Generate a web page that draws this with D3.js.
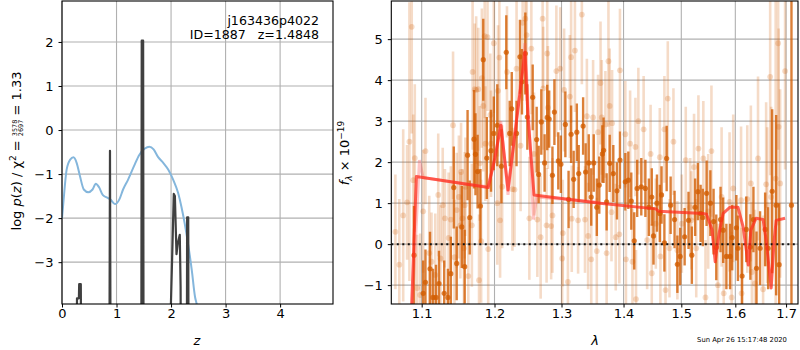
<!DOCTYPE html>
<html>
<head>
<meta charset="utf-8">
<script src="https://d3js.org/d3.v7.min.js"></script>
<style>
body { margin: 0; background: #fff; }
svg { display: block; font-family: "DejaVu Sans", sans-serif; }
</style>
</head>
<body>
<svg id="fig" width="800" height="350"></svg>
<script>
// ---- datos del panel p(z) ----
var zTicks = [0, 1, 2, 3, 4];
var lnpTicks = [-3, -2, -1, 0, 1, 2];

// curva azul (chi2)
var chiCurve = [[0, -2.0], [0.025, -1.65], [0.085, -0.9], [0.15, -0.67], [0.21, -0.62], [0.27, -0.75],
  [0.33, -1.05], [0.40, -1.35], [0.48, -1.41], [0.56, -1.35], [0.62, -1.22], [0.68, -1.3],
  [0.75, -1.48], [0.82, -1.53], [0.89, -1.58], [0.97, -1.68], [1.05, -1.58], [1.12, -1.35],
  [1.21, -1.13], [1.32, -0.82], [1.42, -0.56], [1.52, -0.42], [1.60, -0.38], [1.68, -0.44],
  [1.76, -0.61], [1.86, -0.75], [1.95, -0.9], [2.04, -1.13], [2.13, -1.43], [2.19, -1.74],
  [2.25, -2.12], [2.31, -2.57], [2.38, -3.18], [2.44, -3.79], [2.47, -3.95], [2.55, -4.6]];

// log p(z), linea negra
var logPz = [[0, -5], [0.27, -5], [0.275, -3.82], [0.31, -3.82], [0.315, -3.5], [0.345, -3.5],
  [0.35, -5], [0.87, -5], [0.88, -0.47], [0.89, -5], [1.455, -5], [1.462, 2.03], [1.488, 2.03],
  [1.495, -5], [1.975, -5], [2.02, -2.9], [2.05, -1.45], [2.07, -1.5], [2.1, -2.82], [2.12, -2.6],
  [2.16, -2.38], [2.175, -3.56], [2.18, -5], [2.29, -5], [2.295, -1.98], [2.315, -1.98],
  [2.32, -5], [4.97, -5]];

// ---- datos del espectro ----
var lamTicks = [1.1, 1.2, 1.3, 1.4, 1.5, 1.6, 1.7];
var fluxTicks = [-1, 0, 1, 2, 3, 4, 5];

// [lambda, flujo, error] - haz debil
var faintPts = [
  [1.066, 0.3, 1.4], [1.071, -0.5, 1.6], [1.076, 0.7, 2.1], [1.081, 1.02, 1.4], [1.084, 2.5, 3.4],
  [1.087, 5.3, 2.6], [1.089, 1.56, 1.6], [1.091, 2.1, 1.8], [1.094, -1.07, 1.3], [1.098, -1.24, 1.5],
  [1.102, 0.8, 1.5], [1.105, 2.27, 1.3], [1.110, -0.22, 1.4], [1.113, -0.43, 1.2], [1.118, -0.75, 1.5],
  [1.122, 1.2, 1.5], [1.125, -0.35, 1.3], [1.128, 0.95, 1.4], [1.131, 0.63, 1.2], [1.136, 0.15, 1.6],
  [1.139, 0.6, 1.3], [1.142, 2.9, 1.8], [1.144, -0.32, 1.4], [1.147, 0.83, 1.4], [1.150, 1.15, 1.5],
  [1.152, 0.46, 1.3], [1.153, 1.76, 1.2], [1.155, 0.63, 1.2], [1.157, -0.1, 1.5], [1.158, 0.95, 1.3],
  [1.159, 1.4, 1.2], [1.163, -0.78, 1.4], [1.168, 0.46, 1.5], [1.169, 4.2, 1.9], [1.172, 3.78, 1.6],
  [1.174, 3.76, 1.8], [1.177, 3.78, 1.5], [1.178, -0.88, 1.6], [1.179, 1.97, 1.4], [1.181, 0.07, 1.5],
  [1.182, 4.05, 1.7], [1.184, 3.37, 1.6], [1.186, 5.07, 2.0], [1.187, 2.45, 1.4], [1.190, 5.05, 1.8],
  [1.191, -0.12, 1.6], [1.194, 3.15, 1.5], [1.195, 2.45, 1.3], [1.199, 4.9, 1.7], [1.204, 1.0, 1.5],
  [1.205, 3.74, 1.6], [1.207, 4.55, 1.8], [1.208, 0.58, 1.4], [1.211, 1.4, 1.5], [1.218, 4.2, 1.6],
  [1.226, 1.34, 1.5], [1.229, 1.33, 1.4], [1.232, 4.28, 1.7], [1.238, 2.4, 1.6], [1.241, 5.4, 1.9],
  [1.245, 5.5, 1.8], [1.247, 5.1, 1.6], [1.251, 0.63, 1.5], [1.254, 4.77, 1.6], [1.258, 2.2, 1.5],
  [1.263, 0.6, 1.4], [1.268, 0.17, 1.5], [1.271, 5.5, 1.7], [1.272, 3.8, 1.5], [1.277, 0.46, 1.4],
  [1.278, 4.65, 1.6], [1.279, 3.33, 1.5], [1.284, 0.44, 1.3], [1.286, 0.7, 1.4], [1.292, 4.22, 1.6],
  [1.298, 4.28, 1.5], [1.301, -0.35, 1.4], [1.302, 0.27, 1.3], [1.304, 3.76, 1.5], [1.310, -0.92, 1.3],
  [1.313, 3.6, 1.5], [1.315, 4.56, 1.6], [1.316, 0.62, 1.3], [1.321, 4.72, 1.5], [1.326, 0.58, 1.3],
  [1.332, 5.6, 1.7], [1.337, 0.6, 1.3], [1.340, 3.12, 1.4], [1.342, 0.2, 1.3], [1.347, -0.37, 1.4],
  [1.350, 3.09, 1.4], [1.356, -0.17, 1.3], [1.358, 2.73, 1.4], [1.362, 3.93, 1.5], [1.364, 3.09, 1.4],
  [1.370, 2.92, 1.3], [1.372, -0.22, 1.3], [1.375, 4.46, 1.6], [1.377, 3.37, 1.4], [1.380, 0.78, 1.2],
  [1.381, 2.95, 1.3], [1.387, 0.17, 1.3], [1.393, 0.24, 1.2], [1.394, 4.24, 1.5], [1.403, 2.68, 1.3],
  [1.404, -0.37, 1.2], [1.411, 2.45, 1.3], [1.415, -0.43, 1.3], [1.420, 2.37, 1.2], [1.421, -1.34, 1.2],
  [1.425, 3.0, 1.3], [1.434, 2.8, 1.3], [1.440, 0.1, 1.2], [1.446, 2.2, 1.2], [1.448, -0.71, 1.2],
  [1.455, 0.5, 1.1], [1.462, 2.12, 1.2], [1.463, -0.3, 1.2], [1.470, 2.8, 1.3], [1.472, -1.12, 1.2],
  [1.476, 3.55, 1.4], [1.479, -0.1, 1.2], [1.486, 2.5, 1.3], [1.493, -0.15, 1.2], [1.501, 0.5, 1.2],
  [1.508, 2.05, 1.3], [1.516, 0.9, 1.2], [1.518, 0.58, 1.2], [1.523, 1.88, 1.3], [1.527, -0.1, 1.2],
  [1.531, 2.33, 1.3], [1.540, 2.09, 1.4], [1.544, -1.3, 1.4], [1.549, 0.8, 1.4], [1.555, 2.27, 1.6],
  [1.567, -1.0, 1.5], [1.574, 1.15, 1.7], [1.578, -1.2, 1.5], [1.589, 1.03, 1.7], [1.593, -1.3, 1.6],
  [1.596, 1.36, 1.8], [1.611, 1.07, 1.8], [1.612, -1.2, 1.6], [1.623, 1.1, 1.8], [1.630, 1.48, 1.9],
  [1.632, -0.68, 1.7], [1.638, -0.96, 1.8], [1.644, 2.09, 2.0], [1.654, -1.1, 1.8], [1.660, 1.46, 2.0],
  [1.662, 0.95, 1.9], [1.668, 4.08, 2.4], [1.670, 1.15, 2.2], [1.679, 1.6, 6.0], [1.684, 4.9, 2.6],
  [1.685, 2.86, 2.4], [1.688, 1.48, 2.3], [1.698, 4.22, 2.4]
];

// [lambda, flujo, error] - haz fuerte
var strongPts = [
  [1.090, -0.27, 1.2], [1.102, -1.2, 0.8], [1.105, -0.93, 0.8], [1.111, -0.6, 0.9], [1.115, -1.3, 0.7],
  [1.119, -1.3, 0.8], [1.123, -0.96, 0.8], [1.130, -1.2, 0.8], [1.135, -1.3, 0.7], [1.139, -0.72, 0.9],
  [1.143, 1.38, 1.0], [1.147, -0.47, 0.9], [1.154, 0.42, 1.0], [1.158, -0.55, 0.9], [1.162, 2.17, 1.1],
  [1.165, 0.65, 0.9], [1.171, 2.56, 1.2], [1.173, 2.19, 1.0], [1.176, 1.77, 0.9], [1.180, 0.93, 0.9],
  [1.184, 4.5, 1.0], [1.189, 2.1, 1.0], [1.195, 2.28, 1.0], [1.199, 2.7, 0.9], [1.204, 2.9, 1.0],
  [1.210, 1.9, 0.9], [1.217, 4.68, 0.9], [1.222, 2.7, 0.8], [1.225, 3.3, 0.9], [1.232, 2.7, 0.8],
  [1.237, 4.57, 0.9], [1.240, 3.96, 0.8], [1.245, 4.65, 1.0], [1.248, 3.1, 0.8], [1.256, 3.58, 0.8],
  [1.262, 2.55, 0.8], [1.265, 1.7, 0.7], [1.269, 2.98, 0.8], [1.274, 1.98, 0.7], [1.278, 3.09, 0.8],
  [1.281, 3.05, 0.7], [1.286, 1.68, 0.7], [1.289, 3.22, 0.8], [1.295, 2.03, 0.7], [1.299, 1.95, 0.7],
  [1.306, 2.92, 0.8], [1.311, 1.09, 0.7], [1.315, 2.68, 0.7], [1.319, 1.58, 0.7], [1.324, 2.73, 0.7],
  [1.327, 1.72, 0.7], [1.334, 2.88, 0.7], [1.338, 1.76, 0.7], [1.343, 1.98, 0.7], [1.347, 1.15, 0.7],
  [1.351, 1.98, 0.7], [1.356, 0.9, 0.7], [1.360, 1.44, 0.7], [1.365, 2.2, 0.7],
  [1.367, 2.29, 0.8], [1.372, 1.03, 0.7], [1.377, 1.97, 0.7], [1.383, 1.72, 0.7],
  [1.389, 1.3, 0.7], [1.394, 2.05, 0.7], [1.403, 1.52, 0.7], [1.408, 1.56, 0.7], [1.413, 1.05, 0.7],
  [1.418, 0.08, 0.7], [1.423, 1.36, 0.7], [1.430, 1.4, 0.7], [1.437, 1.36, 0.7], [1.443, 0.9, 0.7],
  [1.448, 1.15, 0.7], [1.451, 0.2, 0.7], [1.457, 1.0, 0.7], [1.462, 0.75, 0.7], [1.465, 1.2, 0.7],
  [1.470, 0.03, 0.7], [1.474, 2.09, 0.8], [1.481, 0.95, 0.7], [1.488, 0.6, 0.7], [1.493, -0.49, 0.7],
  [1.498, -0.3, 0.7], [1.506, 0.18, 0.7], [1.513, 0.58, 0.7], [1.519, -0.27, 0.7], [1.525, 0.9, 0.7],
  [1.530, 1.28, 0.7], [1.535, 0.75, 0.7], [1.539, 0.65, 0.7], [1.546, 1.24, 0.8], [1.553, 1.0, 0.8],
  [1.559, 0.55, 0.8], [1.564, -0.08, 0.8], [1.572, 0.6, 0.8], [1.577, 0.34, 0.8], [1.583, -0.3, 0.8],
  [1.590, -0.3, 0.8], [1.594, 0.16, 0.8], [1.602, 0.4, 0.8], [1.605, -0.1, 0.8], [1.613, -0.78, 0.8],
  [1.621, 0.36, 0.8], [1.629, -0.07, 0.8], [1.635, 0.6, 0.8], [1.641, -0.59, 0.9], [1.648, -0.1, 0.9],
  [1.658, 0.36, 0.9], [1.664, -0.1, 1.0], [1.672, 1.29, 2.0], [1.680, 0.95, 2.2], [1.686, -0.5, 1.5],
  [1.711, 0.95, 6.0]
];

// modelo (rojo) y modelo del segundo haz (rosa)
var modelLine = [[1.084, -3], [1.093, 1.65], [1.191, 1.38], [1.2007, 2.12], [1.2093, 2.9], [1.2195, 1.32],
  [1.2445, 4.68], [1.249, 3.1], [1.258, 1.2], [1.361, 1.0], [1.455, 0.86], [1.46, 0.8], [1.539, 0.75],
  [1.546, 0.73], [1.556, 0.35], [1.562, -0.43], [1.569, 0.25], [1.577, 0.75], [1.590, 0.9],
  [1.605, 0.9], [1.615, 0.42], [1.625, -0.51], [1.630, 0.34], [1.640, 0.63], [1.654, 0.6],
  [1.660, 0.1], [1.670, -1.07], [1.676, 0.1], [1.680, 0.58], [1.698, 0.63]];
var modelLine2 = [[1.084, -3], [1.097, 2.05], [1.102, 1.62], [1.19, 1.4], [1.2, 2.0], [1.209, 3.0],
  [1.2195, 1.2], [1.2445, 4.9], [1.252, 2.5], [1.257, 0.6], [1.262, 1.15], [1.361, 1.02]];

var svg = d3.select("#fig");

var pz = { left: 62, right: 333, top: 1, bottom: 304 };
var sp = { left: 391.3, right: 798, top: 1, bottom: 304 };

var xz = d3.scaleLinear().domain([0, 4.97]).range([pz.left, pz.right]);
var yz = d3.scaleLinear().domain([-3.95, 2.93]).range([pz.bottom, pz.top]);
var xl = d3.scaleLog().domain([1.0608, 1.7244]).range([sp.left, sp.right]);
var yf = d3.scaleLinear().domain([-1.46, 5.93]).range([sp.bottom, sp.top]);

var defs = svg.append("defs");
defs.append("clipPath").attr("id", "clipZ").append("rect")
  .attr("x", pz.left).attr("y", pz.top).attr("width", pz.right - pz.left).attr("height", pz.bottom - pz.top);
defs.append("clipPath").attr("id", "clipS").append("rect")
  .attr("x", sp.left).attr("y", sp.top).attr("width", sp.right - sp.left).attr("height", sp.bottom - sp.top);

// rejilla
function grid(p, xs, ys, xt, yt) {
  var g = svg.append("g");
  g.selectAll(".gx").data(xt).enter().append("line")
    .attr("x1", d => xs(d)).attr("x2", d => xs(d)).attr("y1", p.top).attr("y2", p.bottom)
    .attr("stroke", "#b0b0b0").attr("stroke-width", 1.1);
  g.selectAll(".gy").data(yt).enter().append("line")
    .attr("x1", p.left).attr("x2", p.right).attr("y1", d => ys(d)).attr("y2", d => ys(d))
    .attr("stroke", "#b0b0b0").attr("stroke-width", 1.1);
}
grid(pz, xz, yz, zTicks, lnpTicks);
grid(sp, xl, yf, lamTicks, fluxTicks);

// panel p(z)
var gz = svg.append("g").attr("clip-path", "url(#clipZ)");
gz.append("path").datum(chiCurve)
  .attr("d", d3.line().x(d => xz(d[0])).y(d => yz(d[1])).curve(d3.curveMonotoneX))
  .attr("fill", "none").attr("stroke", "#84b6dc").attr("stroke-width", 2);
gz.append("path").datum(logPz)
  .attr("d", d3.line().x(d => xz(d[0])).y(d => yz(d[1])))
  .attr("fill", "none").attr("stroke", "#404040").attr("stroke-width", 2.2).attr("stroke-linejoin", "round");

// panel espectro
var gs = svg.append("g").attr("clip-path", "url(#clipS)");
function errPts(data, color, alpha, lw, r) {
  var g = gs.append("g");
  g.selectAll("line").data(data).enter().append("line")
    .attr("x1", d => xl(d[0])).attr("x2", d => xl(d[0]))
    .attr("y1", d => yf(d[1] - d[2])).attr("y2", d => yf(d[1] + d[2]))
    .attr("stroke", color).attr("stroke-opacity", alpha).attr("stroke-width", lw);
  g.selectAll("circle").data(data).enter().append("circle")
    .attr("cx", d => xl(d[0])).attr("cy", d => yf(d[1])).attr("r", r)
    .attr("fill", color).attr("fill-opacity", alpha);
}
errPts(faintPts, "#d05a00", 0.22, 2.6, 2.9);
errPts(strongPts, "#d25c00", 0.78, 2.4, 2.6);

gs.append("line")
  .attr("x1", sp.left).attr("x2", sp.right).attr("y1", yf(0)).attr("y2", yf(0))
  .attr("stroke", "#111").attr("stroke-width", 2).attr("stroke-dasharray", "2,3.5");

var mline = d3.line().x(d => xl(d[0])).y(d => yf(d[1]));
gs.append("path").datum(modelLine2).attr("d", mline)
  .attr("fill", "none").attr("stroke", "#ff5a5a").attr("stroke-opacity", 0.35).attr("stroke-width", 3);
gs.append("path").datum(modelLine).attr("d", mline)
  .attr("fill", "none").attr("stroke", "#ff2a1a").attr("stroke-opacity", 0.72).attr("stroke-width", 3)
  .attr("stroke-linejoin", "round");

// ejes
function axes(p, xs, ys, xt, yt, xf) {
  var ax = svg.append("g").attr("transform", "translate(0," + p.bottom + ")")
    .call(d3.axisBottom(xs).tickValues(xt).tickSize(3.5).tickPadding(1.5).tickSizeOuter(0).tickFormat(xf));
  var ay = svg.append("g").attr("transform", "translate(" + p.left + ",0)")
    .call(d3.axisLeft(ys).tickValues(yt).tickSize(3.5).tickPadding(5).tickSizeOuter(0).tickFormat(d3.format("d")));
  [ax, ay].forEach(function(a) {
    a.select(".domain").remove();
    a.selectAll("text").attr("fill", "#000").style("font-size", "13px").style("font-family", "DejaVu Sans");
    a.selectAll("line").attr("stroke", "#000").attr("stroke-width", 1);
  });
  svg.append("rect").attr("x", p.left).attr("y", p.top)
    .attr("width", p.right - p.left).attr("height", p.bottom - p.top)
    .attr("fill", "none").attr("stroke", "#000").attr("stroke-width", 1.1);
}
axes(pz, xz, yz, zTicks, lnpTicks, d3.format("d"));
axes(sp, xl, yf, lamTicks, fluxTicks, d3.format(".1f"));

// textos
svg.append("text").attr("x", 319).attr("y", 25).attr("text-anchor", "end")
  .style("font-size", "12.6px").text("j163436p4022");
svg.append("text").attr("x", 319).attr("y", 38.5).attr("text-anchor", "end")
  .style("font-size", "12.6px").style("white-space", "pre").text("ID=1887   z=1.4848");

svg.append("text").attr("x", 197).attr("y", 345).attr("text-anchor", "middle")
  .style("font-size", "13px").style("font-style", "italic").text("z");
svg.append("text").attr("x", 595).attr("y", 345).attr("text-anchor", "middle")
  .style("font-size", "13px").style("font-style", "italic").text("λ");

svg.append("text").attr("x", 742).attr("y", 342).attr("text-anchor", "middle")
  .style("font-size", "6.8px").text("Sun Apr 26 15:17:48 2020");

var yl = svg.append("text").attr("transform", "translate(21,151) rotate(-90)")
  .attr("text-anchor", "middle").style("font-size", "13px");
yl.append("tspan").text("log ");
yl.append("tspan").style("font-style", "italic").text("p");
yl.append("tspan").text("(");
yl.append("tspan").style("font-style", "italic").text("z");
yl.append("tspan").text(") / χ");
yl.append("tspan").attr("dy", -5).style("font-size", "9px").text("2");
yl.append("tspan").attr("dy", 5).text(" = ");
var num = yl.append("tspan").attr("dy", -4).style("font-size", "6.5px").text("3578");
var nw = num.node().getComputedTextLength();
yl.append("tspan").attr("dx", -nw).attr("dy", 5.5).style("font-size", "6.5px").text("2697");
yl.append("tspan").attr("dy", -1.5).text(" = 1.33");

var fl = svg.append("text").attr("transform", "translate(349,153) rotate(-90)")
  .attr("text-anchor", "middle").style("font-size", "13px");
fl.append("tspan").style("font-style", "italic").text("f");
fl.append("tspan").attr("dy", 3).style("font-size", "9px").style("font-style", "italic").text("λ");
fl.append("tspan").attr("dy", -3).text(" × 10");
fl.append("tspan").attr("dy", -5).style("font-size", "9px").text("−19");
</script>
</body>
</html>
